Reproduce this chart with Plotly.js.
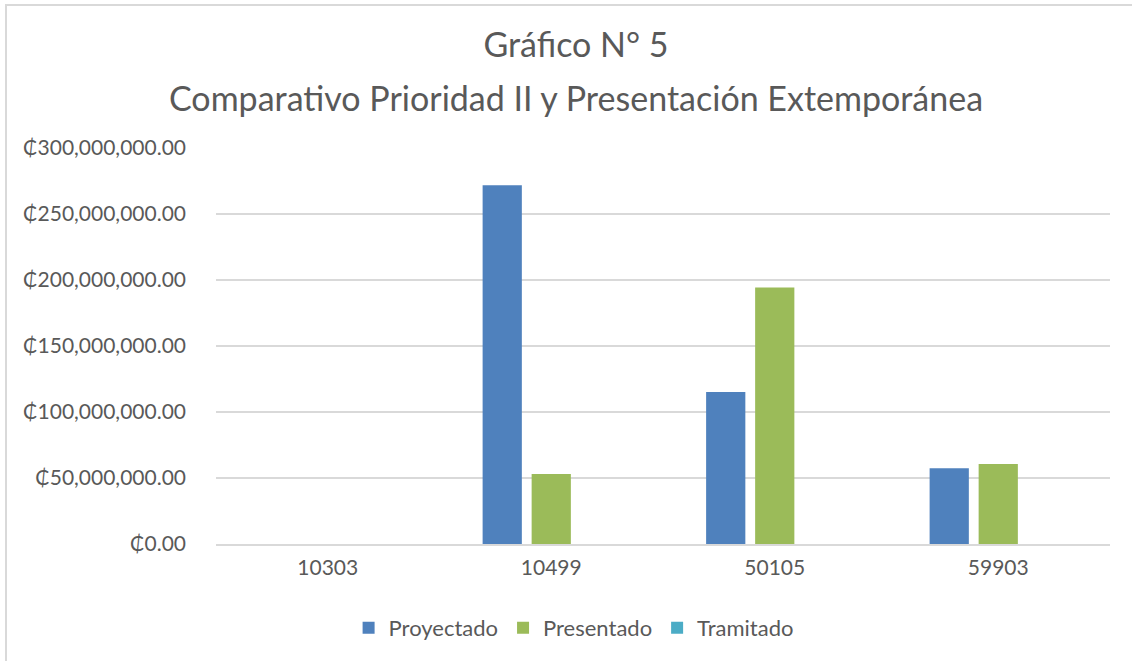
<!DOCTYPE html>
<html>
<head>
<meta charset="utf-8">
<script src="https://cdn.plot.ly/plotly-3.0.1.min.js"></script>
<style>
	html, body { margin: 0; padding: 0; background: #fff; }
	#chart { position: absolute; left: 0; top: 0; width: 1132px; height: 661px; }
	#frame {
		position: absolute; left: 5px; top: 4px; width: 1140px; height: 670px;
		border: 2px solid #d9d9d9; pointer-events: none;
	}
</style>
</head>
<body>
<div id="chart"></div>
<div id="frame"></div>
<script>
// categories (x axis)
const codes = [ '10303', '10499', '50105', '59903' ];

// series values, colones
const proyectado = [ 0, 271700000, 115200000, 57300000 ];
const presentado = [ 0, 53000000, 194400000, 60600000 ];
const tramitado = [ 0, 0, 0, 0 ];

const seriesNames = [ 'Proyectado', 'Presentado', 'Tramitado' ];
const seriesColors = [ '#4f81bd', '#9bbb59', '#4bacc6' ];

const textColor = '#595959';
const gridColor = '#d9d9d9';
const font = 'Lato, "DejaVu Sans", sans-serif';

/**
 * one bar trace per series
 */
const data = [ proyectado, presentado, tramitado ].map(( vals, i ) => ({
	type: 'bar',
	x: codes,
	y: vals,
	name: seriesNames[i],
	marker: { color: seriesColors[i] },
	hovertemplate: '%{x}: ₵%{y:,.2f}<extra></extra>',
}));

const layout = {
	width: 1132,
	height: 661,
	paper_bgcolor: '#ffffff',
	plot_bgcolor: '#ffffff',
	font: { family: font, color: textColor, size: 21 },
	margin: { l: 216, r: 22, t: 148, b: 117 },
	title: {
		text: 'Gráfico N° 5',
		font: { family: font, size: 34, color: textColor },
		x: 576 / 1132,
		xanchor: 'center',
		yref: 'container',
		y: 1 - 45 / 661,
		yanchor: 'middle',
	},
	// second title line, spaced like the original
	annotations: [ {
		text: 'Comparativo Prioridad II y Presentación Extemporánea',
		xref: 'paper', yref: 'paper',
		x: (576 - 216) / 894, y: 1 + 50 / 396,
		xanchor: 'center', yanchor: 'middle',
		showarrow: false,
		font: { family: font, size: 34, color: textColor },
	} ],
	barmode: 'group',
	bargap: 0.342,
	bargroupgap: 0.2,
	xaxis: {
		type: 'category',
		showgrid: false,
		showline: true,
		linecolor: gridColor,
		linewidth: 1.5,
		ticks: '',
		tickfont: { size: 21 },
		ticklabelstandoff: 4,
	},
	yaxis: {
		range: [ 0, 300000000 ],
		dtick: 50000000,
		tickprefix: '₵',
		tickformat: ',.2f',
		showgrid: true,
		gridcolor: gridColor,
		gridwidth: 1.5,
		zeroline: false,
		showline: false,
		ticks: '',
		tickfont: { size: 21 },
		ticklabelstandoff: 29,
	},
	showlegend: true,
	legend: {
		orientation: 'h',
		x: 0.4,
		xanchor: 'center',
		y: -(628 - 544) / 396,
		yanchor: 'middle',
		font: { size: 22 },
		itemwidth: 30,
		traceorder: 'normal',
	},
};

Plotly.newPlot('chart', data, layout, { displayModeBar: false, staticPlot: true });
</script>
</body>
</html>
